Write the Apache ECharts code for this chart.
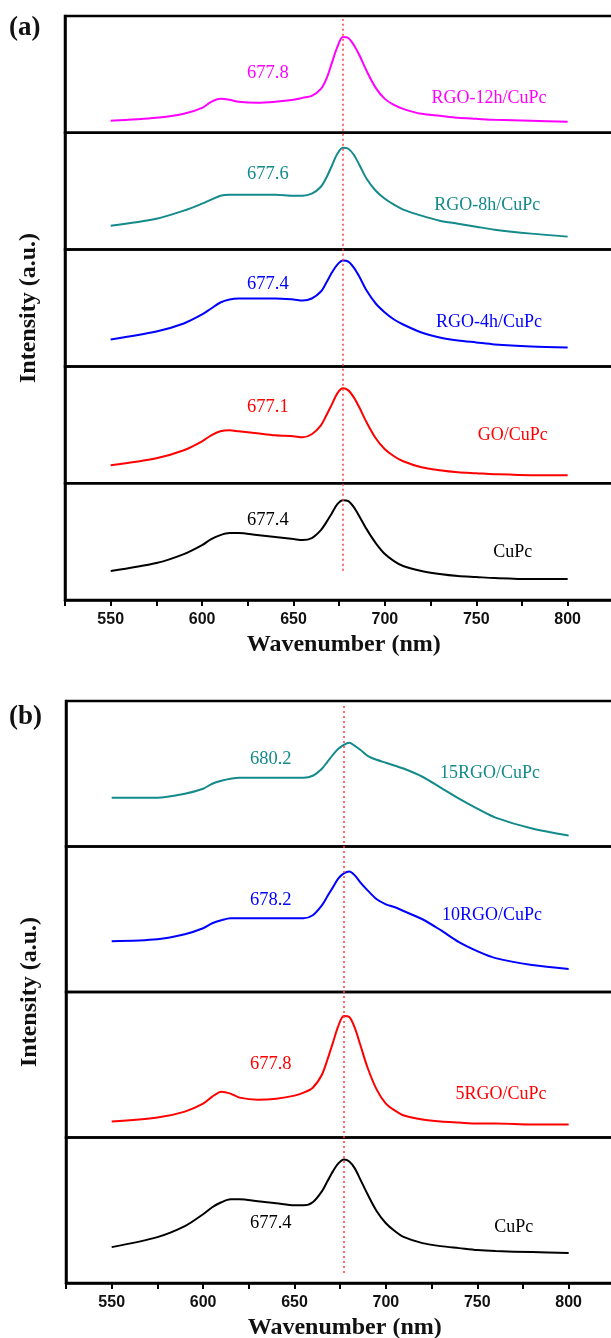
<!DOCTYPE html>
<html><head><meta charset="utf-8">
<script src="https://cdn.jsdelivr.net/npm/echarts@6/dist/echarts.min.js"></script>
<style>html,body{margin:0;padding:0;background:#fff}#c{width:611px;height:1338px}</style>
</head><body><div id="c"></div>
<script>
// ---- data ----
const wavelength = [550,575,590,600,605,610,615,620,630,640,650,655,660,665,668,671,674,677,680,683,686,690,695,700,705,710,720,730,740,750,760,780,800];
const xTickLabels = [550,600,650,700,750,800];
const refLine = 677;

const namesA = ['RGO-12h/CuPc','RGO-8h/CuPc','RGO-4h/CuPc','GO/CuPc','CuPc'];
const peaksA = ['677.8','677.6','677.4','677.1','677.4'];
const A_rgo12h = [12,15,19,25,31,34,33,31,30,31, 33,35,37,44,54,70,86,96,95,88, 78,62,45,34,28,24,19,17,15,14, 13,12,11];
const A_rgo8h  = [24,31,39,46,50,54,55,55,55,55, 54,54,56,63,72,84,96,102,101,95, 85,71,59,51,45,40,34,29,26,23, 20,16,13];
const A_rgo4h  = [27,35,43,52,58,64,67,68,68,68, 67,66,68,75,84,94,102,106,105,99, 90,76,63,54,47,42,34,29,26,24, 22,20,19];
const A_go     = [18,25,33,42,48,52,53,52,50,48, 47,46,49,58,68,79,90,95,93,86, 76,61,45,34,27,22,16,13,11,10, 9,8,8];
const A_cupc   = [29,37,46,55,61,65,67,67,65,63, 61,60,62,70,78,87,96,100,99,93, 84,71,57,46,39,34,29,26,24,23, 22,21,21];

const namesB = ['15RGO/CuPc','10RGO/CuPc','5RGO/CuPc','CuPc'];
const peaksB = ['680.2','678.2','677.8','677.4'];
const B_15rgo = [49,49,53,58,63,66,68,69,69,69, 69,69,71,78,85,92,98,102,104,101, 97,91,87,84,81,78,70,59,48,38, 29,18,11];
const B_10rgo = [51,53,58,64,69,72,74,74,74,74, 74,74,77,87,96,105,114,119,121,117, 110,102,93,88,85,81,73,62,50,41, 34,27,23];
const B_5rgo  = [16,20,26,34,41,46,44,40,38,39, 42,45,50,63,78,95,112,122,121,110, 93,70,48,34,27,22,18,16,15,14, 14,13,13];
const B_cupc  = [36,46,57,69,76,81,84,84,82,80, 78,78,81,92,102,112,120,124,122,115, 104,89,72,60,52,46,40,37,35,33, 32,31,30];

// label anchors (wavelength, intensity) for peak value and sample name
const peakLabelPosA = [[636,60],[636,76],[636,82],[636,76],[636,80]];
const nameLabelPosA = [[757,35],[756,44],[757,44],[770,48],[770,48]];
const peakLabelPosB = [[637,88],[637,92],[637,74],[637,60]];
const nameLabelPosB = [[757,73],[758,77],[763,43],[770,56]];

// ---- styles / layout ----
const serif = "'Liberation Serif','Times New Roman',serif";
const sans = "'Liberation Sans',Arial,sans-serif";
const colorsA = ['#ff00ff','#148a8a','#0000ff','#ff0000','#000000'];
const colorsB = ['#148a8a','#0000ff','#ff0000','#000000'];

const grid = [], xAxis = [], yAxis = [], series = [];

function addPanel(opt) {
  const fi = grid.length;
  grid.push({left: opt.left, top: opt.top, width: opt.width, height: opt.height, show: false,
    containLabel: false, outerBoundsMode: 'none'});
  xAxis.push({
    gridIndex: fi, type: 'value', min: 525, max: 830, interval: 25,
    axisLine: {show: true, onZero: false, lineStyle: {color: '#000', width: 2.5}},
    axisTick: {show: true, inside: false, length: 6, lineStyle: {color: '#000', width: 2}},
    axisLabel: {show: true, margin: 12, fontFamily: sans, fontWeight: 'bold', fontSize: 16, color: '#111',
      formatter: v => xTickLabels.indexOf(v) >= 0 ? String(v) : ''},
    splitLine: {show: false},
    name: 'Wavenumber (nm)', nameLocation: 'middle', nameGap: 33,
    nameTextStyle: {fontFamily: serif, fontWeight: 'bold', fontSize: 24, color: '#111'}
  });
  yAxis.push({
    gridIndex: fi, type: 'value', min: 0, max: 100,
    axisLine: {show: true, onZero: false, lineStyle: {color: '#000', width: 2.5}},
    axisTick: {show: false}, axisLabel: {show: false}, splitLine: {show: false},
    name: 'Intensity (a.u.)', nameLocation: 'middle', nameGap: 24, nameRotate: 90,
    nameTextStyle: {fontFamily: serif, fontWeight: 'bold', fontSize: 24, color: '#111'}
  });
  series.push({
    type: 'line', xAxisIndex: fi, yAxisIndex: fi, data: [], silent: true,
    markLine: {symbol: ['none','none'], silent: true, label: {show: false},
      lineStyle: {color: '#ff3b3b', type: [2, 3], width: 1.5},
      data: [[{coord: [refLine, opt.refLo]}, {coord: [refLine, 99.5]}]]}
  });
  const n = opt.values.length;
  const h = opt.height / n;
  for (let i = 0; i < n; i++) {
    const gi = grid.length;
    grid.push({left: opt.left, top: opt.top + i * h, width: opt.width, height: h,
      containLabel: false, outerBoundsMode: 'none',
      show: true, borderColor: '#000', borderWidth: 2.5, backgroundColor: 'rgba(0,0,0,0)'});
    xAxis.push({gridIndex: gi, type: 'value', min: 525, max: 830, show: false});
    yAxis.push({gridIndex: gi, type: 'value', min: 0, max: opt.yMax, show: false});
    const col = opt.colors[i];
    series.push({
      type: 'line', xAxisIndex: gi, yAxisIndex: gi, silent: true,
      data: wavelength.map((w, k) => [w, opt.values[i][k]]),
      showSymbol: false, smooth: 0.3,
      lineStyle: {color: col, width: 2}, itemStyle: {color: col},
      markPoint: {
        symbol: 'circle', symbolSize: 0, silent: true, itemStyle: {color: 'rgba(0,0,0,0)'},
        label: {show: true, position: 'inside', color: col, fontFamily: serif},
        data: [
          {coord: opt.peakPos[i], label: {formatter: opt.peaks[i], fontSize: 18.5}},
          {coord: opt.namePos[i], label: {formatter: opt.names[i], fontSize: 18}}
        ]
      }
    });
  }
}

addPanel({left: 65, top: 16, width: 557.5, height: 584, yMax: 117, refLo: 5,
  values: [A_rgo12h, A_rgo8h, A_rgo4h, A_go, A_cupc], colors: colorsA,
  names: namesA, peaks: peaksA, peakPos: peakLabelPosA, namePos: nameLabelPosA});
addPanel({left: 66, top: 701, width: 557.5, height: 582, yMax: 146, refLo: 1.7,
  values: [B_15rgo, B_10rgo, B_5rgo, B_cupc], colors: colorsB,
  names: namesB, peaks: peaksB, peakPos: peakLabelPosB, namePos: nameLabelPosB});

const chart = echarts.init(document.getElementById('c'), null, {renderer: 'canvas'});
chart.setOption({
  animation: false,
  backgroundColor: '#fff',
  title: [
    {text: '(a)', left: 9, top: 15, padding: 0, textStyle: {fontFamily: serif, fontWeight: 'bold', fontSize: 27, color: '#111'}},
    {text: '(b)', left: 9, top: 704, padding: 0, textStyle: {fontFamily: serif, fontWeight: 'bold', fontSize: 27, color: '#111'}}
  ],
  grid, xAxis, yAxis, series
});
</script></body></html>
